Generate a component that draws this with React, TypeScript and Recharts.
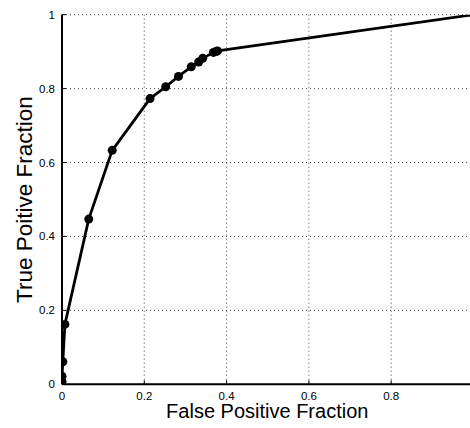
import React from 'react';
import { LineChart, Line, XAxis, YAxis, CartesianGrid, Label } from 'recharts';

const fprValues = [0, 0, 0, 0.002, 0.007, 0.065, 0.122, 0.214, 0.252, 0.283, 0.314, 0.332, 0.342, 0.368, 0.375, 0.378, 1];
const tprValues = [0, 0.008, 0.022, 0.061, 0.162, 0.447, 0.633, 0.773, 0.805, 0.833, 0.859, 0.872, 0.882, 0.898, 0.901, 0.902, 1];
const axisTicks = [0, 0.2, 0.4, 0.6, 0.8, 1];
const xAxisTitle = 'False Positive Fraction';
const yAxisTitle = 'True Poitive Fraction';

const data = fprValues.map((fpr, i) => ({ fpr, tpr: tprValues[i] }));

const FONT = '"Liberation Sans", Arial, Helvetica, sans-serif';
const TICK_LEN = 4;

const BottomTick = (props: any) => {
  const { x, y, payload } = props;
  return (
    <g>
      <line x1={x} x2={x} y1={y} y2={y - TICK_LEN} stroke="#000" strokeWidth={1} />
      {payload.value < 1 && (
        <text x={x} y={y + 16} textAnchor="middle" fontFamily={FONT} fontSize={11.5} fill="#000">
          {String(payload.value)}
        </text>
      )}
    </g>
  );
};

const TopTick = (props: any) => {
  const { x, y } = props;
  return <line x1={x} x2={x} y1={y} y2={y + TICK_LEN} stroke="#000" strokeWidth={1} />;
};

const LeftTick = (props: any) => {
  const { x, y, payload } = props;
  return (
    <g>
      <line x1={x} x2={x + TICK_LEN} y1={y} y2={y} stroke="#000" strokeWidth={1} />
      <text x={x - 7} y={y + 4} textAnchor="end" fontFamily={FONT} fontSize={11.5} fill="#000">
        {String(payload.value)}
      </text>
    </g>
  );
};

const XTitle = (props: any) => {
  const vb = props.viewBox;
  return (
    <text x={vb.x + vb.width / 2 - 0.5} y={vb.y + 34} textAnchor="middle" fontFamily={FONT} fontSize={20} fill="#000">
      {xAxisTitle}
    </text>
  );
};

const YTitle = (props: any) => {
  const vb = props.viewBox;
  const cx = 32;
  const cy = vb.y + vb.height / 2;
  return (
    <text x={cx} y={cy} transform={`rotate(-90, ${cx}, ${cy})`} textAnchor="middle" fontFamily={FONT} fontSize={22.5} fill="#000">
      {yAxisTitle}
    </text>
  );
};

export default function App() {
  return (
    <div style={{ position: 'absolute', left: 0, top: 0, width: 470, height: 428, overflow: 'hidden', background: '#fff' }}>
      <LineChart width={480} height={428} data={data} margin={{ top: 14.7, right: 6.5, bottom: 0, left: 2 }}>
        <CartesianGrid stroke="#444" strokeDasharray="1 3" strokeWidth={1} />
        <XAxis
          dataKey="fpr"
          type="number"
          domain={[0, 1]}
          ticks={axisTicks}
          allowDataOverflow
          height={43.7}
          tickSize={0}
          tickMargin={0}
          tickLine={false}
          axisLine={{ stroke: '#000', strokeWidth: 2 }}
          tick={<BottomTick />}
          interval={0}
        >
          <Label content={<XTitle />} />
        </XAxis>
        <XAxis
          xAxisId="top"
          orientation="top"
          dataKey="fpr"
          type="number"
          domain={[0, 1]}
          ticks={axisTicks}
          allowDataOverflow
          height={0}
          tickSize={0}
          tickMargin={0}
          tickLine={false}
          axisLine={{ stroke: '#000', strokeWidth: 2 }}
          tick={<TopTick />}
          interval={0}
        />
        <YAxis
          dataKey="tpr"
          type="number"
          domain={[0, 1]}
          ticks={axisTicks}
          allowDataOverflow
          width={60}
          tickSize={0}
          tickMargin={0}
          tickLine={false}
          axisLine={{ stroke: '#000', strokeWidth: 2 }}
          tick={<LeftTick />}
          interval={0}
        >
          <Label content={<YTitle />} />
        </YAxis>
        <Line
          type="linear"
          dataKey="tpr"
          stroke="#000"
          strokeWidth={2.8}
          dot={{ r: 4.5, fill: '#000', stroke: '#000', strokeWidth: 0 }}
          activeDot={false}
          isAnimationActive={false}
        />
      </LineChart>
    </div>
  );
}
